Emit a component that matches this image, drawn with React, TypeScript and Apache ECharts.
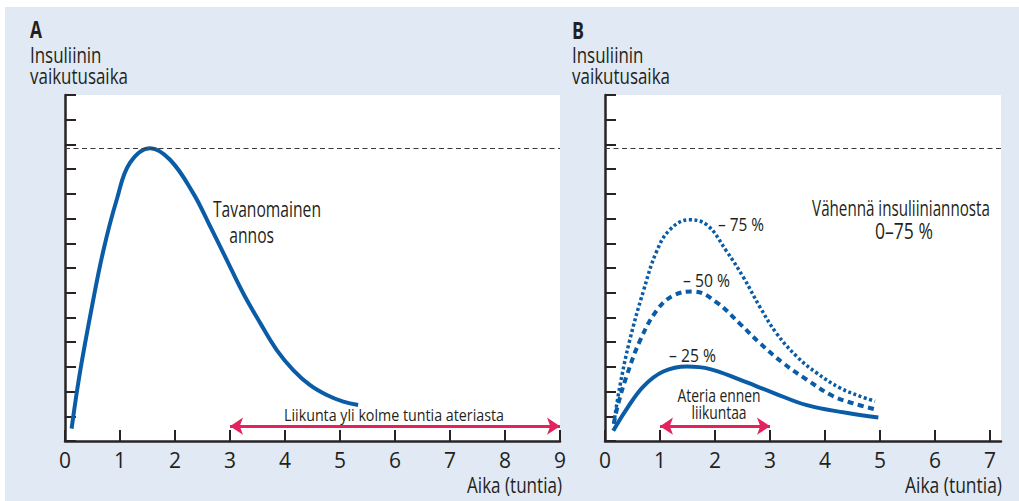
import React, { useEffect, useRef } from "react";
import * as echarts from "echarts";

// ---- data (time in hours, effect in tick units) ----
const xTicksA = [0, 1, 2, 3, 4, 5, 6, 7, 8, 9];
const xTicksB = [0, 1, 2, 3, 4, 5, 6, 7];

const usualDose: [number, number][] = [
  [0.12, 0.5], [0.27, 2.75], [0.49, 5.44], [0.7, 7.73], [0.94, 9.76], [1.18, 11.25],
  [1.55, 11.85], [1.91, 11.38], [2.33, 10.03], [2.64, 8.68], [2.94, 7.33], [3.24, 5.98],
  [3.55, 4.77], [3.85, 3.68], [4.15, 2.87], [4.45, 2.27], [4.76, 1.86], [5.06, 1.59], [5.33, 1.46],
];

const minus25: [number, number][] = [
  [0.15, 0.41], [0.39, 1.28], [0.7, 2.21], [1.06, 2.81], [1.49, 3.01], [1.91, 2.91],
  [2.45, 2.48], [3.06, 1.95], [3.67, 1.45], [4.36, 1.15], [4.97, 0.95],
];

const minus50: [number, number][] = [
  [0.16, 0.7], [0.24, 1.5], [0.39, 2.61], [0.64, 4.08], [0.94, 5.28], [1.24, 5.88],
  [1.61, 6.05], [2.03, 5.61], [2.45, 4.75], [2.82, 3.95], [3.24, 3.15], [3.67, 2.48],
  [4.15, 1.81], [4.52, 1.52], [4.91, 1.28],
];

const minus75: [number, number][] = [
  [0.16, 0.7], [0.27, 2.21], [0.45, 4.08], [0.7, 6.08], [0.94, 7.68], [1.18, 8.55],
  [1.52, 8.95], [1.85, 8.75], [2.21, 7.68], [2.52, 6.61], [2.82, 5.41], [3.12, 4.35],
  [3.49, 3.41], [3.85, 2.75], [4.27, 2.15], [4.64, 1.81], [4.91, 1.61],
];

const referenceLevel = 11.85;
const exerciseArrowA: [number, number] = [3, 9];
const mealArrowB: [number, number] = [1, 3];
const arrowLevel = 0.6;

const FONT = "'Open Sans', 'DejaVu Sans', sans-serif";
const TEXT = "#231f20";
const AXIS = "#2a2326";
const BLUE = "#0b5ca6";
const PINK = "#e4225e";
const PANEL = "#e1e9f4";

let measureCtx: CanvasRenderingContext2D | null = null;
function measure(text: string, font: string): number {
  if (!measureCtx) measureCtx = document.createElement("canvas").getContext("2d");
  if (!measureCtx) return 1;
  measureCtx.font = font;
  return Math.max(...text.split("\n").map((l) => measureCtx!.measureText(l).width));
}

function txt(
  text: string,
  x: number,
  y: number,
  size: number,
  targetWidth: number,
  align = "left",
  bold = false,
  lineHeight?: number
) {
  const font = `${bold ? "bold " : ""}${size}px ${FONT}`;
  const w = measure(text, font);
  const sx = w > 0 ? targetWidth / w : 1;
  return {
    type: "text",
    x,
    y,
    z: 100,
    scaleX: sx,
    style: {
      text,
      fill: TEXT,
      font,
      lineHeight: lineHeight ?? Math.round(size * 1.2),
      textAlign: align,
      textVerticalAlign: "middle",
    },
  };
}

function xAxisCfg(gridIndex: number, max: number, ticks: number[]) {
  return {
    type: "value",
    gridIndex,
    min: 0,
    max,
    interval: 1,
    axisLine: { show: true, onZero: false, lineStyle: { color: AXIS, width: 2.5 } },
    axisTick: { show: true, inside: true, length: 11, lineStyle: { color: AXIS, width: 2 }, customValues: ticks },
    axisLabel: {
      show: true,
      customValues: ticks,
      color: TEXT,
      fontSize: 21,
      fontFamily: FONT,
      margin: 8,
      formatter: (v: number) => (Number.isInteger(v) ? String(v) : ""),
    },
    splitLine: { show: false },
  };
}

function yAxisCfg(gridIndex: number) {
  return {
    type: "value",
    gridIndex,
    min: 0,
    max: 14,
    interval: 1,
    axisLine: { show: true, onZero: false, lineStyle: { color: AXIS, width: 2.5 } },
    axisTick: { show: true, inside: true, length: 11, lineStyle: { color: AXIS, width: 2 } },
    axisLabel: { show: false },
    splitLine: { show: false },
  };
}

function refLine() {
  return {
    silent: true,
    symbol: ["none", "none"],
    label: { show: false },
    lineStyle: { color: "#3a3a3a", width: 1.2, type: [5, 3.5] },
    data: [{ yAxis: referenceLevel }],
  };
}

function arrowLine(range: [number, number]) {
  return {
    silent: true,
    symbol: ["arrow", "arrow"],
    symbolSize: [13, 13],
    label: { show: false },
    lineStyle: { color: PINK, width: 3, type: "solid" },
    itemStyle: { color: PINK },
    data: [[{ coord: [range[0], arrowLevel] }, { coord: [range[1], arrowLevel] }]],
  };
}

export default function App() {
  const ref = useRef<HTMLDivElement>(null);

  useEffect(() => {
    document.body.style.margin = "0";
    const chart = echarts.init(ref.current!, undefined, { renderer: "svg" });
    const option = {
      animation: false,
      backgroundColor: PANEL,
      grid: [
        { left: 65, top: 95, width: 495, height: 346, show: true, backgroundColor: "#ffffff", borderWidth: 0 },
        { left: 605, top: 95, width: 396, height: 346, show: true, backgroundColor: "#ffffff", borderWidth: 0 },
      ],
      xAxis: [xAxisCfg(0, 9, xTicksA), xAxisCfg(1, 7.2, xTicksB)],
      yAxis: [yAxisCfg(0), yAxisCfg(1)],
      series: [
        {
          type: "line",
          xAxisIndex: 0,
          yAxisIndex: 0,
          data: usualDose,
          smooth: 0.4,
          showSymbol: false,
          lineStyle: { color: BLUE, width: 4 },
          markLine: refLine(),
        },
        {
          type: "line",
          xAxisIndex: 0,
          yAxisIndex: 0,
          data: [],
          markLine: arrowLine(exerciseArrowA),
        },
        {
          type: "line",
          xAxisIndex: 1,
          yAxisIndex: 1,
          data: minus25,
          smooth: 0.4,
          showSymbol: false,
          lineStyle: { color: BLUE, width: 4 },
          markLine: refLine(),
        },
        {
          type: "line",
          xAxisIndex: 1,
          yAxisIndex: 1,
          data: minus50,
          smooth: 0.4,
          showSymbol: false,
          lineStyle: { color: BLUE, width: 4, type: [6, 4.5], cap: "butt" },
        },
        {
          type: "line",
          xAxisIndex: 1,
          yAxisIndex: 1,
          data: minus75,
          smooth: 0.4,
          showSymbol: false,
          lineStyle: { color: BLUE, width: 3.5, type: [3, 2.5], cap: "butt" },
          markLine: arrowLine(mealArrowB),
        },
      ],
      graphic: [
        { type: "rect", shape: { x: 0, y: 0, width: 1019, height: 7 }, style: { fill: "#ffffff" }, z: -1 },
        { type: "rect", shape: { x: 0, y: 0, width: 5, height: 501 }, style: { fill: "#ffffff" }, z: -1 },
        txt("A", 30, 29, 24, 12, "left", true),
        txt("Insuliinin\nvaikutusaika", 30, 65.5, 21, 98, "left", false, 21),
        txt("B", 572, 29, 24, 12, "left", true),
        txt("Insuliinin\nvaikutusaika", 572, 65.5, 21, 98, "left", false, 21),
        txt("Aika (tuntia)", 562, 485, 22, 95, "right"),
        txt("Aika (tuntia)", 1002, 485, 22, 97, "right"),
        txt("Tavanomainen\n    annos", 213, 221, 21, 108, "left", false, 26),
        txt("Liikunta yli kolme tuntia ateriasta", 394, 414, 17, 220, "center"),
        txt("Vähennä insuliiniannosta", 901, 207, 21, 178, "center"),
        txt("0–75 %", 904, 231, 21, 58, "center"),
        txt("– 75 %", 718, 224, 19, 46),
        txt("– 50 %", 683, 279, 19, 47),
        txt("– 25 %", 669, 354, 19, 47),
        txt("Ateria ennen\nliikuntaa", 719, 404, 18, 83, "center", false, 17),
      ],
    };
    chart.setOption(option as any);
    return () => chart.dispose();
  }, []);

  return (
    <div
      ref={ref}
      style={{ position: "absolute", left: 0, top: 0, width: 1019, height: 501 }}
    />
  );
}
